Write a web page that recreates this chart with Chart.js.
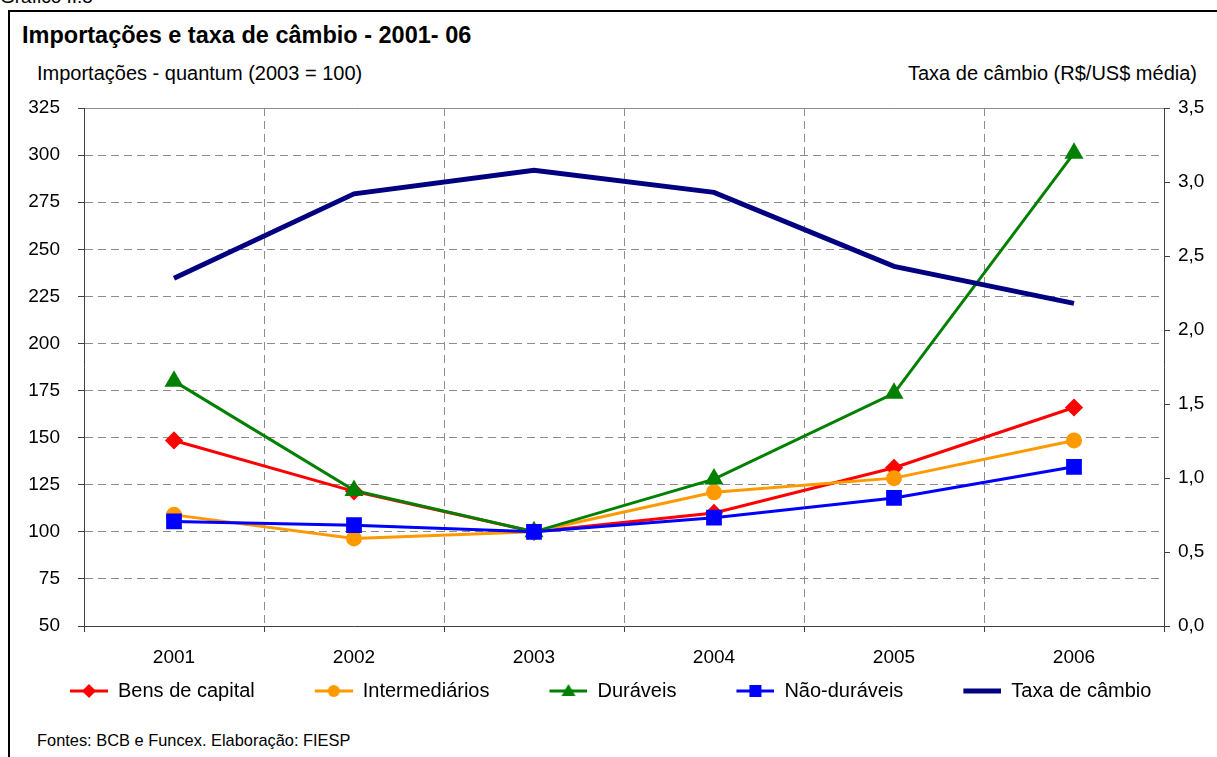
<!DOCTYPE html>
<html>
<head>
<meta charset="utf-8">
<script src="https://cdn.jsdelivr.net/npm/chart.js@4"></script>
<style>
  body { margin: 0; background: #fff; font-family: "Liberation Sans", Arial, sans-serif; }
  #tela { position: relative; width: 1217px; height: 757px; overflow: hidden; }
  #moldura { position: absolute; left: 8px; top: 10px; width: 1300px; height: 800px;
             border-left: 2px solid #000; border-top: 2px solid #000; }
  .txt { position: absolute; white-space: nowrap; color: #000; line-height: 1; }
  canvas { position: absolute; left: 0; top: 0; }
</style>
</head>
<body>
<div id="tela">
  <div class="txt" style="left:0px; top:-13px; font-size:19px;">Gráfico II.5</div>
  <div id="moldura"></div>
  <div class="txt" style="left:22px; top:24px; font-size:23.5px; font-weight:bold;">Importações e taxa de câmbio - 2001- 06</div>
  <div class="txt" style="left:37px; top:63px; font-size:20px;">Importações - quantum (2003 = 100)</div>
  <div class="txt" style="right:20px; top:63px; font-size:20px;">Taxa de câmbio (R$/US$ média)</div>
  <div class="txt" style="left:37px; top:732px; font-size:16.4px;">Fontes: BCB e Funcex. Elaboração: FIESP</div>
  <canvas id="grafico" width="1217" height="757"></canvas>
</div>
<script>
// dados
const anos = ["2001", "2002", "2003", "2004", "2005", "2006"];
const bensDeCapital = [148.5, 121.5, 100, 110, 134, 166];
const intermediarios = [109, 96.5, 100, 121, 128.5, 148.5];
const duraveis = [180, 122, 100, 128, 173.5, 301];
const naoDuraveis = [105.5, 103.5, 100, 107.5, 118, 134.5];
const taxaDeCambio = [2.35, 2.92, 3.08, 2.93, 2.43, 2.18];

const nomes = ["Bens de capital", "Intermediários", "Duráveis", "Não-duráveis", "Taxa de câmbio"];

// espaco livre antes de cada icone da legenda (separa os itens)
const folga = 50;

// icone da legenda: linha com o marcador no meio
function icone(cor, estilo, espessura) {
  const c = document.createElement("canvas");
  c.width = folga + 38;
  c.height = 20;
  const ctx = c.getContext("2d");
  const x0 = folga;
  const xm = folga + 19;
  ctx.strokeStyle = cor;
  ctx.lineWidth = espessura;
  ctx.beginPath();
  ctx.moveTo(x0, 10);
  ctx.lineTo(x0 + 38, 10);
  ctx.stroke();
  ctx.fillStyle = cor;
  ctx.beginPath();
  if (estilo === "rectRot") {
    ctx.moveTo(xm, 3); ctx.lineTo(xm + 7, 10); ctx.lineTo(xm, 17); ctx.lineTo(xm - 7, 10);
  } else if (estilo === "circle") {
    ctx.arc(xm, 10, 6, 0, Math.PI * 2);
  } else if (estilo === "triangle") {
    ctx.moveTo(xm, 3); ctx.lineTo(xm + 7, 15); ctx.lineTo(xm - 7, 15);
  } else if (estilo === "rect") {
    ctx.rect(xm - 6, 4, 12, 12);
  }
  ctx.closePath();
  if (estilo) ctx.fill();
  return c;
}

const icones = [
  icone("#ff0000", "rectRot", 3),
  icone("#ff9900", "circle", 3),
  icone("#008000", "triangle", 3),
  icone("#0000ff", "rect", 3),
  icone("#000080", null, 5),
];

Chart.defaults.font.family = "'Liberation Sans', Arial, sans-serif";
Chart.defaults.color = "#000";

const cinza = "#8c8c8c";
const escuro = "#404040";

new Chart(document.getElementById("grafico"), {
  type: "line",
  data: {
    labels: anos,
    datasets: [
      {
        label: nomes[0],
        data: bensDeCapital,
        borderColor: "#ff0000",
        backgroundColor: "#ff0000",
        borderWidth: 3,
        pointStyle: "rectRot",
        pointRadius: 7,
        order: 4,
      },
      {
        label: nomes[1],
        data: intermediarios,
        borderColor: "#ff9900",
        backgroundColor: "#ff9900",
        borderWidth: 3,
        pointStyle: "circle",
        pointRadius: 6.5,
        order: 3,
      },
      {
        label: nomes[2],
        data: duraveis,
        borderColor: "#008000",
        backgroundColor: "#008000",
        borderWidth: 3,
        pointStyle: "triangle",
        pointRadius: 8,
        order: 2,
      },
      {
        label: nomes[3],
        data: naoDuraveis,
        borderColor: "#0000ff",
        backgroundColor: "#0000ff",
        borderWidth: 3,
        pointStyle: "rect",
        pointRadius: 9,
        order: 1,
      },
      {
        label: nomes[4],
        data: taxaDeCambio,
        borderColor: "#000080",
        backgroundColor: "#000080",
        borderWidth: 5,
        pointRadius: 0,
        yAxisID: "y2",
        order: 0,
      },
    ],
  },
  options: {
    responsive: false,
    animation: false,
    layout: {
      padding: { left: 10, right: 8, top: 108, bottom: 46 },
    },
    plugins: {
      tooltip: { enabled: false },
      legend: {
        position: "bottom",
        align: "start",
        labels: {
          usePointStyle: true,
          pointStyleWidth: folga + 38,
          padding: 10,
          font: { size: 20 },
          color: "#000",
          generateLabels: (chart) =>
            chart.data.datasets.map((ds, i) => ({
              text: ds.label,
              pointStyle: icones[i],
              datasetIndex: i,
              hidden: !chart.isDatasetVisible(i),
              lineWidth: 0,
              strokeStyle: "rgba(0,0,0,0)",
              fillStyle: "rgba(0,0,0,0)",
              fontColor: "#000",
            })),
        },
      },
    },
    scales: {
      x: {
        offset: true,
        afterFit: (s) => { s.height = 45; },
        grid: {
          offset: true,
          color: (c) => (c.index === 0 || c.index >= anos.length ? "rgba(0,0,0,0)" : cinza),
          tickLength: 6,
          tickColor: escuro,
        },
        border: { color: escuro, width: 1, dash: [8, 5] },
        ticks: { font: { size: 19 }, padding: 14, color: "#000" },
      },
      xTopo: {
        type: "category",
        position: "top",
        offset: true,
        afterFit: (s) => { s.height = 0; },
        grid: { display: false, drawTicks: false },
        border: { display: true, color: cinza, width: 1 },
        ticks: { display: false },
      },
      y: {
        position: "left",
        min: 50,
        max: 325,
        afterFit: (s) => { s.width = 74; },
        grid: {
          color: (c) => (c.tick && (c.tick.value === 50 || c.tick.value === 325) ? "rgba(0,0,0,0)" : cinza),
          tickLength: 6,
          tickColor: escuro,
        },
        border: { color: escuro, width: 1, dash: [8, 5] },
        ticks: { stepSize: 25, font: { size: 19 }, padding: 18, color: "#000" },
      },
      y2: {
        position: "right",
        min: 0,
        max: 3.5,
        afterFit: (s) => { s.width = 45; },
        grid: { drawOnChartArea: false, tickLength: 6, tickColor: escuro },
        border: { color: escuro, width: 1 },
        ticks: {
          stepSize: 0.5,
          font: { size: 19 },
          padding: 8,
          color: "#000",
          callback: (v) => v.toFixed(1).replace(".", ","),
        },
      },
    },
  },
});
</script>
</body>
</html>
